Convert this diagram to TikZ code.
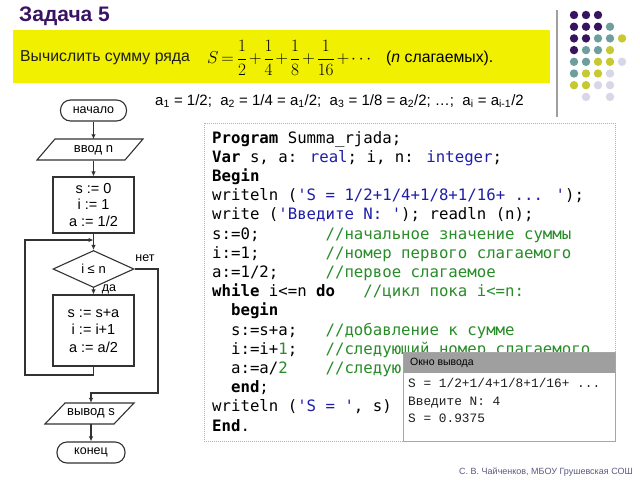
\documentclass[tikz,border=0pt]{standalone}
\usepackage{amsmath}
\usepackage{fontspec}
\setmainfont{Liberation Sans}
\newfontfamily\codefont{DejaVu Sans Mono}
\newfontfamily\winfont{Liberation Mono}
\usetikzlibrary{shapes.geometric,arrows.meta}
\definecolor{titlepurple}{RGB}{58,20,100}
\definecolor{bandyellow}{RGB}{240,240,0}
\definecolor{dotP}{RGB}{55,20,95}
\definecolor{dotT}{RGB}{110,158,158}
\definecolor{dotY}{RGB}{200,200,50}
\definecolor{dotL}{RGB}{215,215,232}
\definecolor{kwblue}{RGB}{30,30,170}
\definecolor{cmgreen}{RGB}{40,140,40}
\definecolor{flow}{RGB}{50,50,50}
\definecolor{footgray}{RGB}{90,90,130}
\newcommand\sbs[1]{\textsubscript{#1}}
\newcommand\qq{\textquotesingle}
\tikzset{
  flowline/.style={draw=flow, line width=1.1pt},
  arr/.style={flowline, -{Latex[length=5pt,width=4.5pt]}},
  term/.style={draw=flow, line width=1.1pt, rounded corners=10pt, minimum width=66pt, minimum height=21pt, inner sep=0pt, font=\fontsize{12.5}{14}\selectfont},
  procbox/.style={draw=flow, line width=1.1pt, minimum width=81pt, minimum height=56pt, inner sep=0pt, align=center, font=\fontsize{14.5}{16.5}\selectfont},
  decis/.style={diamond, draw=flow, line width=1.1pt, minimum width=81pt, minimum height=37pt, inner sep=0pt, aspect=2.2, font=\fontsize{13}{15}\selectfont},
  iotext/.style={minimum width=60pt, minimum height=21pt, inner sep=0pt, font=\fontsize{13}{15}\selectfont},
  lbl/.style={inner sep=0pt, font=\fontsize{12.5}{14}\selectfont},
  codeline/.style={anchor=base west, inner sep=0pt, font=\codefont\fontsize{15.7}{19}\selectfont},
  winline/.style={anchor=base west, inner sep=0pt, font=\winfont\fontsize{12.8}{15}\selectfont, text={rgb,255:red,30;green,30;blue,30}},
}
\begin{document}
\begin{tikzpicture}[x=1pt,y=-1pt]
\useasboundingbox (0,0) rectangle (640,480);
\fill[white] (0,0) rectangle (640,480);

% title and band
\node[anchor=west, inner sep=0pt, font=\bfseries\fontsize{21}{24}\selectfont, text=titlepurple] (title) at (19,16) {Задача 5};
\fill[bandyellow] (13,30) rectangle (550,83);
\draw[gray!75, line width=1.2pt] (557,10) -- (557,117);
\node[anchor=west, inner sep=0pt, font=\fontsize{15.8}{18}\selectfont, text={rgb,255:red,30;green,30;blue,30}] (task) at (20,58) {Вычислить сумму ряда};
\node[anchor=west, inner sep=0pt, font=\fontsize{17}{20}\selectfont] (sum) at (207,58) {\medmuskip=2mu\thickmuskip=3mu$S=\dfrac{1}{2}+\dfrac{1}{4}+\dfrac{1}{8}+\dfrac{1}{16}+\cdots$};
\node[anchor=west, inner sep=0pt, font=\fontsize{15.8}{18}\selectfont] (nterms) at (386,58) {(\textit{n} слагаемых).};

% dots
\foreach \c [count=\i from 0] in {P,P,P} \fill[dot\c] ({574+12*\i},15) circle (4.2pt);
\foreach \c [count=\i from 0] in {P,P,P,T} \fill[dot\c] ({574+12*\i},26.7) circle (4.2pt);
\foreach \c [count=\i from 0] in {P,P,T,T,Y} \fill[dot\c] ({574+12*\i},38.4) circle (4.2pt);
\foreach \c [count=\i from 0] in {P,T,T,Y} \fill[dot\c] ({574+12*\i},50.1) circle (4.2pt);
\foreach \c [count=\i from 0] in {T,T,Y,Y,L} \fill[dot\c] ({574+12*\i},61.8) circle (4.2pt);
\foreach \c [count=\i from 0] in {T,Y,Y,L} \fill[dot\c] ({574+12*\i},73.5) circle (4.2pt);
\foreach \c [count=\i from 0] in {Y,Y,L,L} \fill[dot\c] ({574+12*\i},85.2) circle (4.2pt);
\fill[dotL] (586,96.9) circle (4.2pt);
\fill[dotL] (610,96.9) circle (4.2pt);

% sequence line
\node[anchor=west, inner sep=0pt, font=\fontsize{15}{17}\selectfont] (seq) at (155,101)
  {a\sbs{1} = 1/2;\ \ a\sbs{2} = 1/4 = a\sbs{1}/2;\ \ a\sbs{3} = 1/8 = a\sbs{2}/2; \dots;\ \ a\sbs{i} = a\sbs{i-1}/2};

% flowchart
\node[term] (start) at (93.5,110.5) {начало};
\node[iotext] (inp) at (93.5,150) {ввод n};
\draw[flowline] (37,160) -- (55,139) -- (143,139) -- (125,160) -- cycle;
\node[procbox] (init) at (93.5,205) {s := 0\\ i := 1\\ a := 1/2};
\node[decis] (dec) at (93.5,269) {i ≤ n};
\node[procbox, minimum height=71pt, font=\fontsize{14.5}{17.5}\selectfont] (body) at (93.5,330.5) {s := s+a\\ i := i+1\\ a := a/2};
\node[iotext] (outp) at (91,413.5) {вывод s};
\draw[flowline] (45,424) -- (65,403) -- (134,403) -- (114,424) -- cycle;
\node[term, minimum width=68pt] (endn) at (91,452.5) {конец};
\node[lbl] (nolbl) at (145,258) {нет};
\node[lbl] (yeslbl) at (109,289) {да};
\coordinate (loopcorner) at (25,375);
\coordinate (loopin) at (93.5,240);
\coordinate (noturn) at (158,393);

\draw[arr] (start) -- (inp);
\draw[arr] (inp) -- (init);
\draw[arr] (init) -- (dec);
\draw[arr] (dec) -- (body);
\draw[arr] (body.south) |- (loopcorner) |- (loopin);
\draw[arr] (dec.east) -| (noturn) -| (outp.north);
\draw[arr] (outp) -- (endn);

% code box
\draw[gray!60, line width=0.8pt, dash pattern=on 1pt off 1pt] (204,123) rectangle (615,441);
\node[codeline] (c0) at (212,143) {\textbf{Program} Summa\_rjada;};
\node[codeline] (c1) at (212,162.2) {\textbf{Var} s, a: \textcolor{kwblue}{real}; i, n: \textcolor{kwblue}{integer};};
\node[codeline] (c2) at (212,181.4) {\textbf{Begin}};
\node[codeline] (c3) at (212,200.6) {writeln (\textcolor{kwblue}{\qq S = 1/2+1/4+1/8+1/16+ ... \qq});};
\node[codeline] (c4) at (212,219.8) {write (\textcolor{kwblue}{\qq Введите N: \qq}); readln (n);};
\node[codeline] (c5) at (212,239) {s:=0;};
\node[codeline, text=cmgreen] (m5) at (325.4,239) {//начальное значение суммы};
\node[codeline] (c6) at (212,258.2) {i:=1;};
\node[codeline, text=cmgreen] (m6) at (325.4,258.2) {//номер первого слагаемого};
\node[codeline] (c7) at (212,277.4) {a:=1/2;};
\node[codeline, text=cmgreen] (m7) at (325.4,277.4) {//первое слагаемое};
\node[codeline] (c8) at (212,296.6) {\textbf{while} i<=n \textbf{do}};
\node[codeline, text=cmgreen] (m8) at (363.2,296.6) {//цикл пока i<=n:};
\node[codeline] (c9) at (230.9,315.8) {\textbf{begin}};
\node[codeline] (c10) at (230.9,335) {s:=s+a;};
\node[codeline, text=cmgreen] (m10) at (325.4,335) {//добавление к сумме};
\node[codeline] (c11) at (230.9,354.2) {i:=i+\textcolor{cmgreen}{1};};
\node[codeline, text=cmgreen] (m11) at (325.4,354.2) {//следующий номер слагаемого};
\node[codeline] (c12) at (230.9,373.4) {a:=a/\textcolor{cmgreen}{2}};
\node[codeline, text=cmgreen] (m12) at (325.4,373.4) {//следую};
\node[codeline] (c13) at (230.9,392.6) {\textbf{end};};
\node[codeline] (c14) at (212,411.8) {writeln (\textcolor{kwblue}{\qq S = \qq}, s)};
\node[codeline] (c15) at (212,431) {\textbf{End}.};

% output window
\fill[white] (403,352) rectangle (615,441);
\fill[gray!75] (403,352) rectangle (615,373);
\draw[gray!70, line width=0.8pt] (403,352) rectangle (615,441);
\node[anchor=west, inner sep=0pt, font=\fontsize{10.5}{12}\selectfont] (wtitle) at (410,362.5) {Окно вывода};
\node[winline] (w1) at (408,387) {S = 1/2+1/4+1/8+1/16+ ...};
\node[winline] (w2) at (408,405) {Введите N: 4};
\node[winline] (w3) at (408,422) {S = 0.9375};

% footer
\node[anchor=east, inner sep=0pt, font=\fontsize{9}{11}\selectfont, text=footgray] (foot) at (633,472) {С. В. Чайченков, МБОУ Грушевская СОШ};
\end{tikzpicture}
\end{document}
